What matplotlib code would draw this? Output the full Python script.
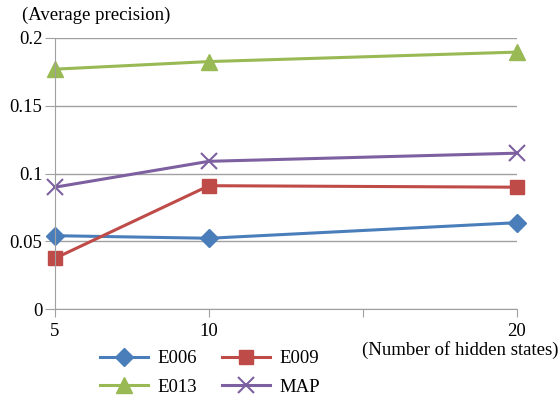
import matplotlib
matplotlib.use('Agg')
import matplotlib.pyplot as plt

# data
hidden_states = [5, 10, 20]
e006 = [0.0541, 0.0522, 0.0637]
e009 = [0.0374, 0.0910, 0.0899]
e013 = [0.1770, 0.1826, 0.1896]
map_vals = [0.0899, 0.1090, 0.1150]

plt.rcParams['font.family'] = ['Liberation Serif', 'DejaVu Serif']

fig = plt.figure(figsize=(5.6, 3.97), dpi=100)
ax = fig.add_axes([55 / 560, 1 - 309 / 397, (517 - 55) / 560, (309 - 38) / 397])

l1, = ax.plot(hidden_states, e006, color='#4a7ebb', lw=2.2, marker='D', ms=9, label='E006', clip_on=False)
l2, = ax.plot(hidden_states, e009, color='#be4b48', lw=2.2, marker='s', ms=10, label='E009', clip_on=False)
l3, = ax.plot(hidden_states, e013, color='#98b954', lw=2.2, marker='^', ms=11, label='E013', clip_on=False)
l4, = ax.plot(hidden_states, map_vals, color='#7d60a0', lw=2.2, marker='x', ms=11, mew=1.5, label='MAP', clip_on=False)

ax.set_xlim(5, 20)
ax.set_ylim(0, 0.2)
ax.set_xticks([5, 10, 15, 20])
ax.set_xticklabels(['5', '10', '', '20'])
ax.set_yticks([0, 0.05, 0.1, 0.15, 0.2])
ax.set_yticklabels(['0', '0.05', '0.1', '0.15', '0.2'])
ax.grid(axis='y', color='#a0a0a0', lw=1)
ax.set_axisbelow(True)
for s in ['top', 'right']:
    ax.spines[s].set_visible(False)
for s in ['left', 'bottom']:
    ax.spines[s].set_color('#a0a0a0')
ax.tick_params(axis='both', colors='#a0a0a0', labelcolor='black', labelsize=13.5)
ax.tick_params(axis='y', length=7, pad=2)
ax.tick_params(axis='x', length=6, pad=4)

fig.text(22 / 560, 1 - 15 / 397, '(Average precision)', fontsize=13.5, va='center', ha='left')
fig.text(558 / 560, 1 - 350 / 397, '(Number of hidden states)', fontsize=13.5, va='center', ha='right')

# reorder so rows read E006, E009 / E013, MAP
fig.legend([l1, l3, l2, l4], ['E006', 'E013', 'E009', 'MAP'], loc='center',
           bbox_to_anchor=(210 / 560, 1 - 373 / 397), ncol=2, frameon=False,
           fontsize=13.5, handlelength=2.6, columnspacing=1.3, labelspacing=0.6, handletextpad=0.5)

fig.savefig('out.png', dpi=100)
